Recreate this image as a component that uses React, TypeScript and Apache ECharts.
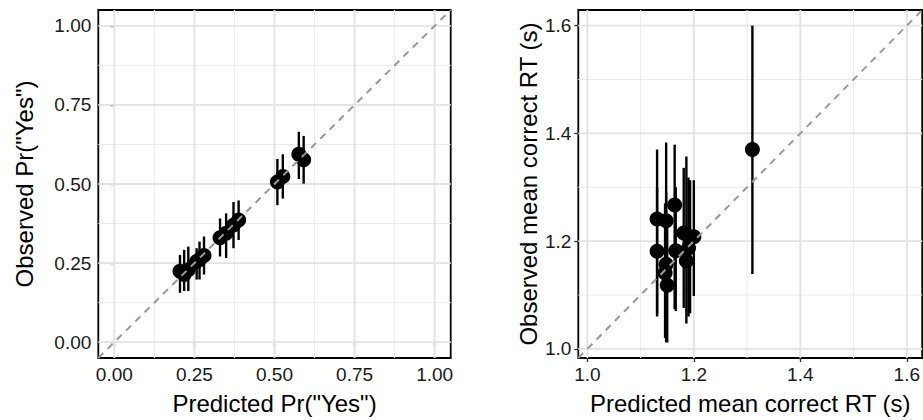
import React, { useEffect, useRef } from "react";
import * as echarts from "echarts";

// Left panel: Pr("Yes")
const probPredicted = [0.205, 0.218, 0.231, 0.257, 0.266, 0.28, 0.33, 0.349, 0.372, 0.388, 0.509, 0.526, 0.576, 0.591];
const probObserved = [0.224, 0.214, 0.229, 0.255, 0.261, 0.274, 0.33, 0.344, 0.37, 0.386, 0.506, 0.524, 0.594, 0.577];
const probLower = [0.156, 0.162, 0.162, 0.198, 0.198, 0.214, 0.271, 0.266, 0.297, 0.323, 0.433, 0.454, 0.516, 0.501];
const probUpper = [0.276, 0.292, 0.302, 0.297, 0.318, 0.334, 0.391, 0.407, 0.443, 0.448, 0.579, 0.594, 0.665, 0.652];
const probRange = [-0.05, 1.05];
const probTicks = [0, 0.25, 0.5, 0.75, 1];
const probMinor = [0.125, 0.375, 0.625, 0.875];

// Right panel: mean correct RT
const rtPredicted = [1.131, 1.131, 1.148, 1.148, 1.146, 1.15, 1.164, 1.166, 1.181, 1.186, 1.19, 1.193, 1.2, 1.31];
const rtObserved = [1.241, 1.181, 1.238, 1.157, 1.141, 1.118, 1.267, 1.182, 1.215, 1.163, 1.187, 1.207, 1.208, 1.37];
const rtLower = [1.064, 1.06, 1.012, 1.03, 1.02, 1.012, 1.074, 1.07, 1.076, 1.047, 1.06, 1.066, 1.098, 1.139];
const rtUpper = [1.37, 1.3, 1.383, 1.29, 1.27, 1.25, 1.379, 1.3, 1.336, 1.357, 1.318, 1.313, 1.313, 1.6];
const rtRange = [0.983, 1.629];
const rtTicks = [1.0, 1.2, 1.4, 1.6];
const rtMinor = [1.1, 1.3, 1.5];

const FONT = "'Liberation Sans', Arial, Helvetica, sans-serif";
const MAJOR = "#e3e3e3";
const MINOR = "#ececec";

function gridLines(idx: number, values: number[], orient: "v" | "h", range: number[], width: number, color: string) {
  return {
    type: "custom",
    xAxisIndex: idx,
    yAxisIndex: idx,
    silent: true,
    z: 1,
    data: values.map((v) => [v, v]),
    renderItem: (params: any, api: any) => {
      const v = api.value(0);
      const p1 = orient === "v" ? api.coord([v, range[0]]) : api.coord([range[0], v]);
      const p2 = orient === "v" ? api.coord([v, range[1]]) : api.coord([range[1], v]);
      return {
        type: "line",
        shape: { x1: p1[0], y1: p1[1], x2: p2[0], y2: p2[1] },
        style: { stroke: color, lineWidth: width },
      };
    },
  };
}

function errorBars(idx: number, xs: number[], lo: number[], hi: number[]) {
  return {
    type: "custom",
    xAxisIndex: idx,
    yAxisIndex: idx,
    silent: true,
    z: 3,
    data: xs.map((x, i) => [x, lo[i], hi[i]]),
    encode: { x: 0, y: [1, 2] },
    renderItem: (params: any, api: any) => {
      const a = api.coord([api.value(0), api.value(1)]);
      const b = api.coord([api.value(0), api.value(2)]);
      return {
        type: "line",
        shape: { x1: a[0], y1: a[1], x2: b[0], y2: b[1] },
        style: { stroke: "#000", lineWidth: 2.4 },
      };
    },
  };
}

function axisCfg(idx: number, range: number[], ticks: number[], digits: number, name: string, gap: number) {
  return {
    type: "value",
    gridIndex: idx,
    min: range[0],
    max: range[1],
    axisLine: { show: false },
    axisTick: { show: true, length: 4, customValues: ticks, lineStyle: { color: "#333", width: 1.3 } },
    axisLabel: {
      customValues: ticks,
      formatter: (v: number) => v.toFixed(digits),
      fontSize: 19,
      color: "#1a1a1a",
      fontFamily: FONT,
      margin: 7,
    },
    splitLine: { show: false },
    name,
    nameLocation: "middle",
    nameGap: gap,
    nameTextStyle: { fontSize: 24, color: "#000", fontFamily: FONT },
  };
}

function panelSeries(
  idx: number,
  xs: number[],
  ys: number[],
  lo: number[],
  hi: number[],
  range: number[],
  ticks: number[],
  minor: number[]
) {
  return [
    gridLines(idx, minor, "v", range, 1, MINOR),
    gridLines(idx, minor, "h", range, 1, MINOR),
    gridLines(idx, ticks, "v", range, 1.8, MAJOR),
    gridLines(idx, ticks, "h", range, 1.8, MAJOR),
    errorBars(idx, xs, lo, hi),
    {
      type: "scatter",
      xAxisIndex: idx,
      yAxisIndex: idx,
      silent: true,
      z: 4,
      symbol: "circle",
      symbolSize: 15,
      itemStyle: { color: "#000", opacity: 1 },
      data: xs.map((x, i) => [x, ys[i]]),
    },
    {
      type: "line",
      xAxisIndex: idx,
      yAxisIndex: idx,
      silent: true,
      z: 5,
      showSymbol: false,
      symbol: "none",
      lineStyle: { color: "#999999", width: 2, type: [7, 6], opacity: 1 },
      data: [
        [range[0], range[0]],
        [range[1], range[1]],
      ],
    },
  ];
}

export default function App() {
  const ref = useRef<HTMLDivElement>(null);
  useEffect(() => {
    if (!ref.current) return;
    const chart = echarts.init(ref.current, null, { renderer: "svg" });
    const gridBase = { show: true, backgroundColor: "#fff", borderColor: "#000", borderWidth: 1.8, top: 10, height: 350.7 };
    chart.setOption({
      animation: false,
      backgroundColor: "#fff",
      textStyle: { fontFamily: FONT },
      grid: [
        { ...gridBase, left: 98.3, width: 352.4 },
        { ...gridBase, left: 578.3, width: 349 },
      ],
      xAxis: [
        axisCfg(0, probRange, probTicks, 2, 'Predicted Pr("Yes")', 33),
        axisCfg(1, rtRange, rtTicks, 1, "Predicted mean correct RT (s)", 33),
      ],
      yAxis: [
        axisCfg(0, probRange, probTicks, 2, 'Observed Pr("Yes")', 62),
        axisCfg(1, rtRange, rtTicks, 1, "Observed mean correct RT (s)", 38),
      ],
      series: [
        ...panelSeries(0, probPredicted, probObserved, probLower, probUpper, probRange, probTicks, probMinor),
        ...panelSeries(1, rtPredicted, rtObserved, rtLower, rtUpper, rtRange, rtTicks, rtMinor),
      ],
    });
    return () => chart.dispose();
  }, []);
  return (
    <div
      ref={ref}
      style={{ position: "absolute", left: 0, top: 0, width: 923, height: 420, background: "#fff" }}
    />
  );
}
